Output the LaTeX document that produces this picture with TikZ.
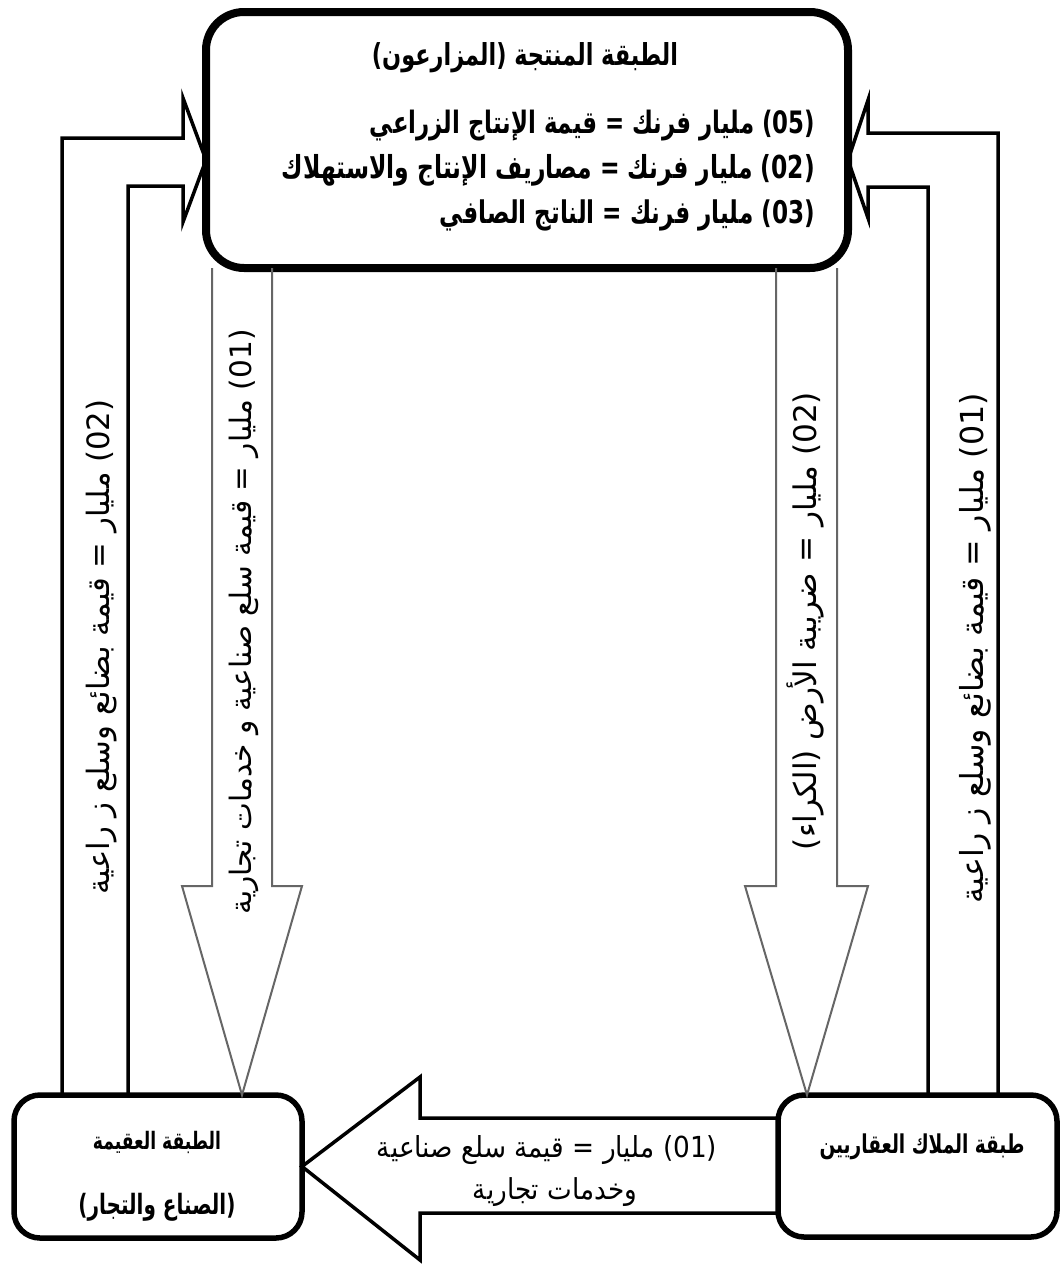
\documentclass[tikz,border=0pt]{standalone}
\usepackage{fontspec}
\usepackage{graphicx}
\TeXXeTstate=1
\newfontfamily\arabicfont[Script=Arabic]{DejaVu Sans}
% #1 width, #2 vertical stretch, #3 text (with its own \beginR ... \endR)
\newcommand\arb[3]{\scalebox{1}[#2]{\resizebox{#1}{!}{\arabicfont\bfseries #3}}}
\newcommand\arr[3]{\scalebox{1}[#2]{\resizebox{#1}{!}{\arabicfont #3}}}
\begin{document}
\begin{tikzpicture}[x=1pt,y=-1pt,
  bigbox/.style={draw, line width=8pt, rounded corners=38pt, minimum width=642pt, minimum height=256pt, inner sep=0pt, outer sep=0pt},
  smallbox/.style={draw, line width=5.5pt, rounded corners=26pt, inner sep=0pt, outer sep=0pt},
  lbl/.style={inner sep=0pt, outer sep=0pt},
  uarrow/.style={draw, line width=3.5pt, line join=miter},
  darrow/.style={draw=black!60, line width=2pt, line join=miter},
  barrow/.style={draw, line width=3.5pt, line join=miter}]
\useasboundingbox (0,0) rectangle (1063,1266);
\fill[white] (0,0) rectangle (1063,1266);

% boxes
\node[bigbox] (prod) at (527,140) {};
\node[smallbox, minimum width=288pt, minimum height=143pt] (steril) at (158,1166.5) {};
\node[smallbox, minimum width=279pt, minimum height=142pt] (owners) at (917.5,1166) {};

% helper coordinates
\coordinate (xA) at (62,0);
\coordinate (xB) at (128,0);
\coordinate (xC) at (212,0);
\coordinate (xD) at (272,0);
\coordinate (xE) at (776,0);
\coordinate (xF) at (837,0);
\coordinate (xG) at (928,0);
\coordinate (xH) at (998,0);
\coordinate (lutip) at ([yshift=-20pt]prod.west);
\coordinate (rutip) at ([yshift=-20pt]prod.east);

% left U arrow (into producer box)
\draw[uarrow] (steril.north -| xA) -- (62,138) -- (183,138) -- (183,98) -- (lutip)
  -- (183,222) -- (183,186) -- (128,186) -- (steril.north -| xB);
% right U arrow (into producer box)
\draw[uarrow] (owners.north -| xH) -- (998,133) -- (868,133) -- (868,100) -- (rutip)
  -- (868,218) -- (868,187) -- (928,187) -- (owners.north -| xG);

% down arrow to steril class
\draw[darrow] (prod.south -| xC) -- (212,886) -- (182,886) -- (steril.north -| 242,0)
  -- (302,886) -- (272,886) -- (prod.south -| xD);
% down arrow to land owners
\draw[darrow] (prod.south -| xE) -- (776,886) -- (745,886) -- (owners.north -| 807,0)
  -- (868,886) -- (837,886) -- (prod.south -| xF);

% bottom arrow owners -> steril
\draw[barrow] (owners.west |- 0,1118) -- (420,1118) -- (420,1077) -- (steril.east)
  -- (420,1260) -- (420,1213) -- (owners.west |- 0,1213);

% texts in producer box
\node[lbl] (t0) at (525,58) {\arb{306pt}{1.35}{\beginR الطبقة المنتجة (المزارعون)\endR}};
\node[lbl, anchor=east] (t1) at (815,126) {\arb{445pt}{1.35}{\beginR\beginL(05)\endL{} مليار فرنك = قيمة الإنتاج الزراعي\endR}};
\node[lbl, anchor=east] (t2) at (815,170) {\arb{533pt}{1.35}{\beginR\beginL(02)\endL{}  مليار فرنك = مصاريف الإنتاج والاستهلاك\endR}};
\node[lbl, anchor=east] (t3) at (815,215) {\arb{375pt}{1.35}{\beginR\beginL(03)\endL{}  مليار فرنك = الناتج الصافي\endR}};

% texts in bottom boxes
\node[lbl] (s1) at (157,1142) {\arb{128pt}{1.4}{\beginR الطبقة العقيمة\endR}};
\node[lbl] (s2) at (157,1207) {\arb{157pt}{1.4}{\beginR (الصناع والتجار)\endR}};
\node[lbl] (o1) at (922,1147) {\arb{205pt}{1.4}{\beginR طبقة الملاك العقاريين\endR}};

% bottom arrow text
\node[lbl] (b1) at (547,1150) {\arr{340pt}{1.1}{\beginR\beginL(01)\endL{} مليار = قيمة سلع صناعية\endR}};
\node[lbl] (b2) at (555,1192) {\arr{164pt}{1.1}{\beginR وخدمات تجارية\endR}};

% vertical texts
\node[lbl, rotate=90] (v1) at (102,647) {\arr{495pt}{1}{\beginR\beginL(02)\endL{}  مليار = قيمة بضائع وسلع ز راعية\endR}};
\node[lbl, rotate=90] (v2) at (244,622) {\arr{585pt}{1}{\beginR\beginL(01)\endL{} مليار = قيمة سلع صناعية و خدمات تجارية\endR}};
\node[lbl, rotate=90] (v3) at (805,621) {\arr{458pt}{1}{\beginR\beginL(02)\endL{} مليار = ضريبة الأرض (الكراء)\endR}};
\node[lbl, rotate=90] (v4) at (975,648) {\arr{510pt}{1}{\beginR\beginL(01)\endL{} مليار = قيمة بضائع وسلع ز راعية\endR}};
\end{tikzpicture}
\end{document}
